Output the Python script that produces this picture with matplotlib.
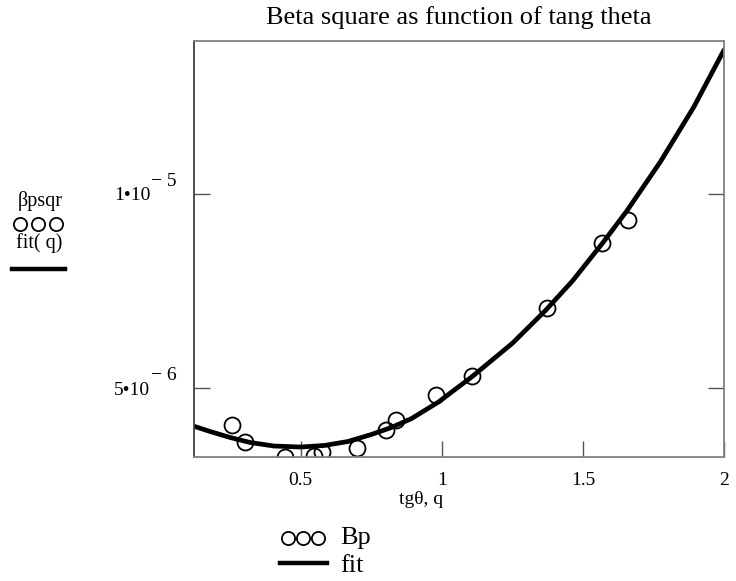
import matplotlib
matplotlib.use('Agg')
import matplotlib.pyplot as plt
from matplotlib.lines import Line2D

plt.rcParams['font.family'] = ['Liberation Serif', 'DejaVu Serif']

# measured points: tg(theta) vs beta^2
tg_theta = [0.258, 0.304, 0.446, 0.548, 0.574, 0.700, 0.801, 0.837, 0.979, 1.107, 1.371, 1.569, 1.661]
beta_sqr = [4.056e-6, 3.626e-6, 3.224e-6, 3.258e-6, 3.368e-6, 3.471e-6, 3.927e-6, 4.184e-6,
            4.828e-6, 5.324e-6, 7.074e-6, 8.731e-6, 9.331e-6]

# fitted curve fit(q)
q = [0.119, 0.179, 0.25, 0.321, 0.405, 0.5, 0.583, 0.667, 0.75, 0.821, 0.893, 0.988,
     1.107, 1.25, 1.369, 1.464, 1.571, 1.655, 1.774, 1.893, 2.0]
fit_q = [4.030e-6, 3.888e-6, 3.734e-6, 3.605e-6, 3.515e-6, 3.489e-6, 3.528e-6, 3.631e-6,
         3.811e-6, 3.991e-6, 4.223e-6, 4.647e-6, 5.299e-6, 6.158e-6, 7.015e-6, 7.771e-6,
         8.749e-6, 9.557e-6, 10.823e-6, 12.239e-6, 13.705e-6]

x_ticks = [0.5, 1, 1.5, 2]
x_tick_labels = ['0.5', '1', '1.5', '2']
y_ticks = [5e-6, 1e-5]
y_tick_mantissa = ['5\u202210', '1\u202210']
y_tick_exponent = ['\u2212 6', '\u2212 5']

W, H = 736, 581
fig = plt.figure(figsize=(W / 100, H / 100), dpi=100)
ax = fig.add_axes([193.5 / W, 1 - 456.7 / H, (724 - 193.5) / W, (456.7 - 41) / H])

ax.plot(tg_theta, beta_sqr, 'o', mfc='none', mec='black', ms=11.5, mew=1.3)
ax.plot(q, fit_q, '-', color='black', lw=3.4, solid_capstyle='round')

ax.set_xlim(0.12, 2.0)
ax.set_ylim(3.240e-6, 1.3937e-5)
ax.set_xticks(x_ticks)
ax.set_xticklabels(x_tick_labels)
ax.set_yticks(y_ticks)
ax.set_yticklabels(y_tick_mantissa)
ax.tick_params(axis='x', direction='in', length=11.5, width=1, color='#555555', pad=11, labelsize=14)
ax.tick_params(axis='y', direction='in', length=11.5, width=1, color='#555555', left=True, right=True,
               pad=31, labelsize=14)
# Mathcad-style exponent written next to each mantissa
for tick, expo in zip(y_ticks, y_tick_exponent):
    ax.annotate(expo, xy=(0, tick), xycoords=('axes fraction', 'data'), xytext=(-30.5, 9),
                textcoords='offset points', ha='left', va='center', fontsize=14)
for side in ['top', 'right', 'bottom']:
    ax.spines[side].set_color('#808080')
    ax.spines[side].set_linewidth(1.3)
ax.spines['left'].set_color('#404040')
ax.spines['left'].set_linewidth(1.3)

fig.text(459 / W, 1 - 18 / H, 'Beta square as function of tang theta', ha='center', va='center', fontsize=19)
fig.text(421 / W, 1 - 500 / H, 'tg\u03b8, q', ha='center', va='center', fontsize=14)

# left-hand trace names
fig.text(40 / W, 1 - 201 / H, '\u03b2psqr', ha='center', va='center', fontsize=14.5)
fig.add_artist(Line2D([19.5 / W, 38 / W, 56.5 / W], [1 - 223.5 / H] * 3, transform=fig.transFigure,
                      ls='none', marker='o', mfc='none', mec='black', ms=9.5, mew=1.3))
fig.text(39 / W, 1 - 243 / H, 'fit( q)', ha='center', va='center', fontsize=14.5)
fig.add_artist(Line2D([12 / W, 65 / W], [1 - 269 / H] * 2, transform=fig.transFigure,
                      color='black', lw=3.2))

# bottom trace names
fig.add_artist(Line2D([288 / W, 303 / W, 318 / W], [1 - 538 / H] * 3, transform=fig.transFigure,
                      ls='none', marker='o', mfc='none', mec='black', ms=9.5, mew=1.3))
fig.text(340 / W, 1 - 538 / H, 'Bp', ha='left', va='center', fontsize=19)
fig.add_artist(Line2D([280 / W, 327 / W], [1 - 563 / H] * 2, transform=fig.transFigure,
                      color='black', lw=3.2))
fig.text(340 / W, 1 - 566 / H, 'fit', ha='left', va='center', fontsize=19)

fig.savefig('out.png', dpi=100)
